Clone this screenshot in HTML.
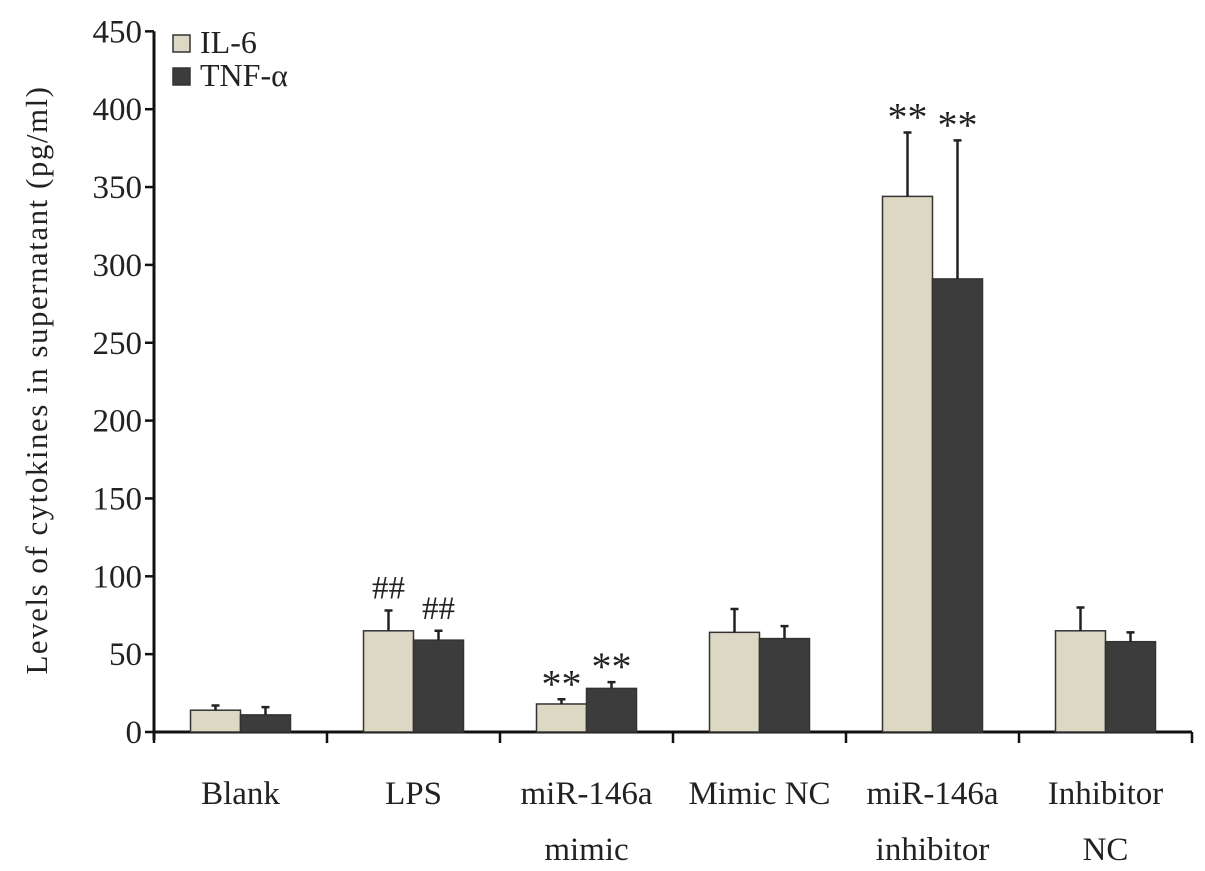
<!DOCTYPE html>
<html><head><meta charset="utf-8"><style>
body{margin:0;background:#fff}
svg text{font-family:"Liberation Serif",serif;fill:#222}
</style></head><body>
<svg id="c" width="1205" height="866" xmlns="http://www.w3.org/2000/svg"></svg>
<script>
const categories=[["Blank"],["LPS"],["miR-146a","mimic"],["Mimic NC"],["miR-146a","inhibitor"],["Inhibitor","NC"]];
const il6=[14,65,18,64,344,65];
const il6Err=[3,13,3,15,41,15];
const tnf=[11,59,28,60,291,58];
const tnfErr=[5,6,4,8,89,6];
const il6Marks=["","##","**","","**",""];
const tnfMarks=["","##","**","","**",""];
const yTicks=[0,50,100,150,200,250,300,350,400,450];
const NS="http://www.w3.org/2000/svg";
const svg=document.getElementById('c');
const x0=154,catW=173,y0=732,k=1.557,barW=50;
const y=v=>y0-v*k;
function el(t,a,txt){const e=document.createElementNS(NS,t);for(const n in a)e.setAttribute(n,a[n]);if(txt!==undefined)e.textContent=txt;svg.appendChild(e);return e;}
let ax=el('line',{x1:x0,y1:y(450),x2:x0,y2:y0+8,stroke:'#111','stroke-width':3});


let xa=el('line',{x1:x0,y1:y0,x2:x0+6*catW,y2:y0,stroke:'#111','stroke-width':3});


yTicks.forEach(v=>{
 let t=el('line',{x1:x0-9,y1:y(v),x2:x0,y2:y(v),stroke:'#111','stroke-width':2.5});
 
 
 let l=el('text',{x:x0-12,y:y(v)+11,'text-anchor':'end','font-size':33},v);
 
 
});
for(let i=0;i<=6;i++){
 let t=el('line',{x1:x0+i*catW,y1:y0,x2:x0+i*catW,y2:y0+11,stroke:'#111','stroke-width':2.5});
 
 
}
let yl=el('text',{x:0,y:0,transform:'translate(47,380) rotate(-90)','text-anchor':'middle','font-size':31,'letter-spacing':1.5},'Levels of cytokines in supernatant (pg/ml)');


function bar(cx,v,e,fill,mark,name){
 let r=el('rect',{x:cx-barW/2,y:y(v),width:barW,height:v*k,fill:fill,stroke:'#333','stroke-width':1.5});
 
 
 let eb=el('path',{d:`M${cx},${y(v)} V${y(v+e)} M${cx-4},${y(v+e)} H${cx+4}`,stroke:'#222','stroke-width':2.5,fill:'none'});
 
 
 if(mark){let m=el('text',{x:cx,y:y(v+e)-(mark=='**'?2:12),'text-anchor':'middle','font-size':mark=='**'?40:33},mark);
 
 }
}
categories.forEach((c,i)=>{
 const cx=x0+i*catW+catW/2;
 bar(cx-barW/2,il6[i],il6Err[i],'#ddd8c4',il6Marks[i],'bar-il6');
 bar(cx+barW/2,tnf[i],tnfErr[i],'#3c3c3c',tnfMarks[i],'bar-tnf');
 c.forEach((s,j)=>{let t=el('text',{x:cx,y:y0+72+j*56,'text-anchor':'middle','font-size':33},s);
 
 });
});
[['#ddd8c4','IL-6',35],['#3c3c3c','TNF-α',68]].forEach(([f,l,yy])=>{
 let r=el('rect',{x:173,y:yy,width:17,height:17,fill:f,stroke:'#333','stroke-width':1.5});
 
 
 let t=el('text',{x:200,y:yy+18,'font-size':32},l);
 
 
});
</script>
</body></html>
